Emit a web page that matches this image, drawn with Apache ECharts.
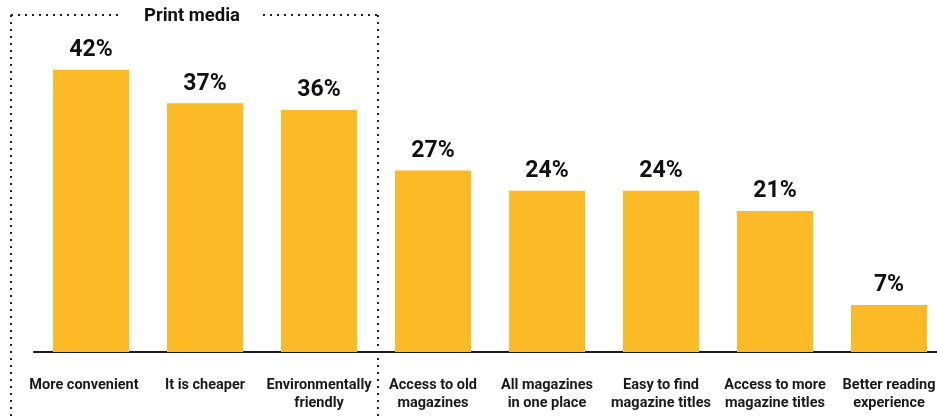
<!DOCTYPE html>
<html>
<head>
<meta charset="utf-8">
<script src="https://cdn.jsdelivr.net/npm/echarts@6/dist/echarts.min.js"></script>
<style>
  html, body { margin: 0; padding: 0; background: #fff; overflow: hidden; }
  /* chart is wider than the window: the last label is cut off like the original */
  #chart { width: 960px; height: 418px; }
</style>
</head>
<body>
<div id="chart"></div>
<script>
// 数据
var categories = [
  "More convenient", "It is cheaper", "Environmentally\nfriendly",
  "Access to old\nmagazines", "All magazines\nin one place", "Easy to find\nmagazine titles",
  "Access to more\nmagazine titles", "Better reading\nexperience"
];
var values = [42, 37, 36, 27, 24, 24, 21, 7];
var groupTitle = "Print media";

var chart = echarts.init(document.getElementById("chart"));

var dotted = { stroke: "#222", lineWidth: 2, lineDash: [2, 5] };

// 第一个标签稍微偏左
var xData = categories.map(function (c, i) {
  return i === 0 ? { value: c, textStyle: { padding: [0, 14, 0, 0] } } : c;
});

var option = {
  animation: false,
  grid: { left: 34, top: 16, width: 912, height: 336 },
  xAxis: {
    type: "category",
    data: xData,
    axisLine: { lineStyle: { color: "#1a1a1a", width: 2 } },
    axisTick: { show: false },
    axisLabel: {
      interval: 0,
      margin: 24,
      color: "#1a1a1a",
      fontFamily: "Roboto",
      fontWeight: "bold",
      fontSize: 14.5,
      lineHeight: 18
    }
  },
  yAxis: {
    type: "value",
    min: 0,
    max: 50,
    show: false,
    splitLine: { show: false }
  },
  series: [
    {
      type: "bar",
      data: values,
      barWidth: 76,
      itemStyle: { color: "#FBBA26" },
      label: {
        show: true,
        position: "top",
        distance: 8,
        formatter: "{c}%",
        color: "#111",
        fontFamily: "Roboto",
        fontWeight: "bold",
        fontSize: 23
      }
    }
  ],
  // 虚线框 + 标题
  graphic: [
    { type: "line", shape: { x1: 11, y1: 15, x2: 120, y2: 15 }, style: dotted },
    { type: "line", shape: { x1: 263, y1: 15, x2: 379, y2: 15 }, style: dotted },
    { type: "line", shape: { x1: 11, y1: 15, x2: 11, y2: 418 }, style: dotted },
    { type: "line", shape: { x1: 378, y1: 15, x2: 378, y2: 418 }, style: dotted },
    {
      type: "text",
      x: 192, y: 16,
      style: {
        text: groupTitle,
        fill: "#111",
        font: "bold 18.5px Roboto",
        align: "center",
        verticalAlign: "middle"
      }
    }
  ]
};

chart.setOption(option);
</script>
</body>
</html>
